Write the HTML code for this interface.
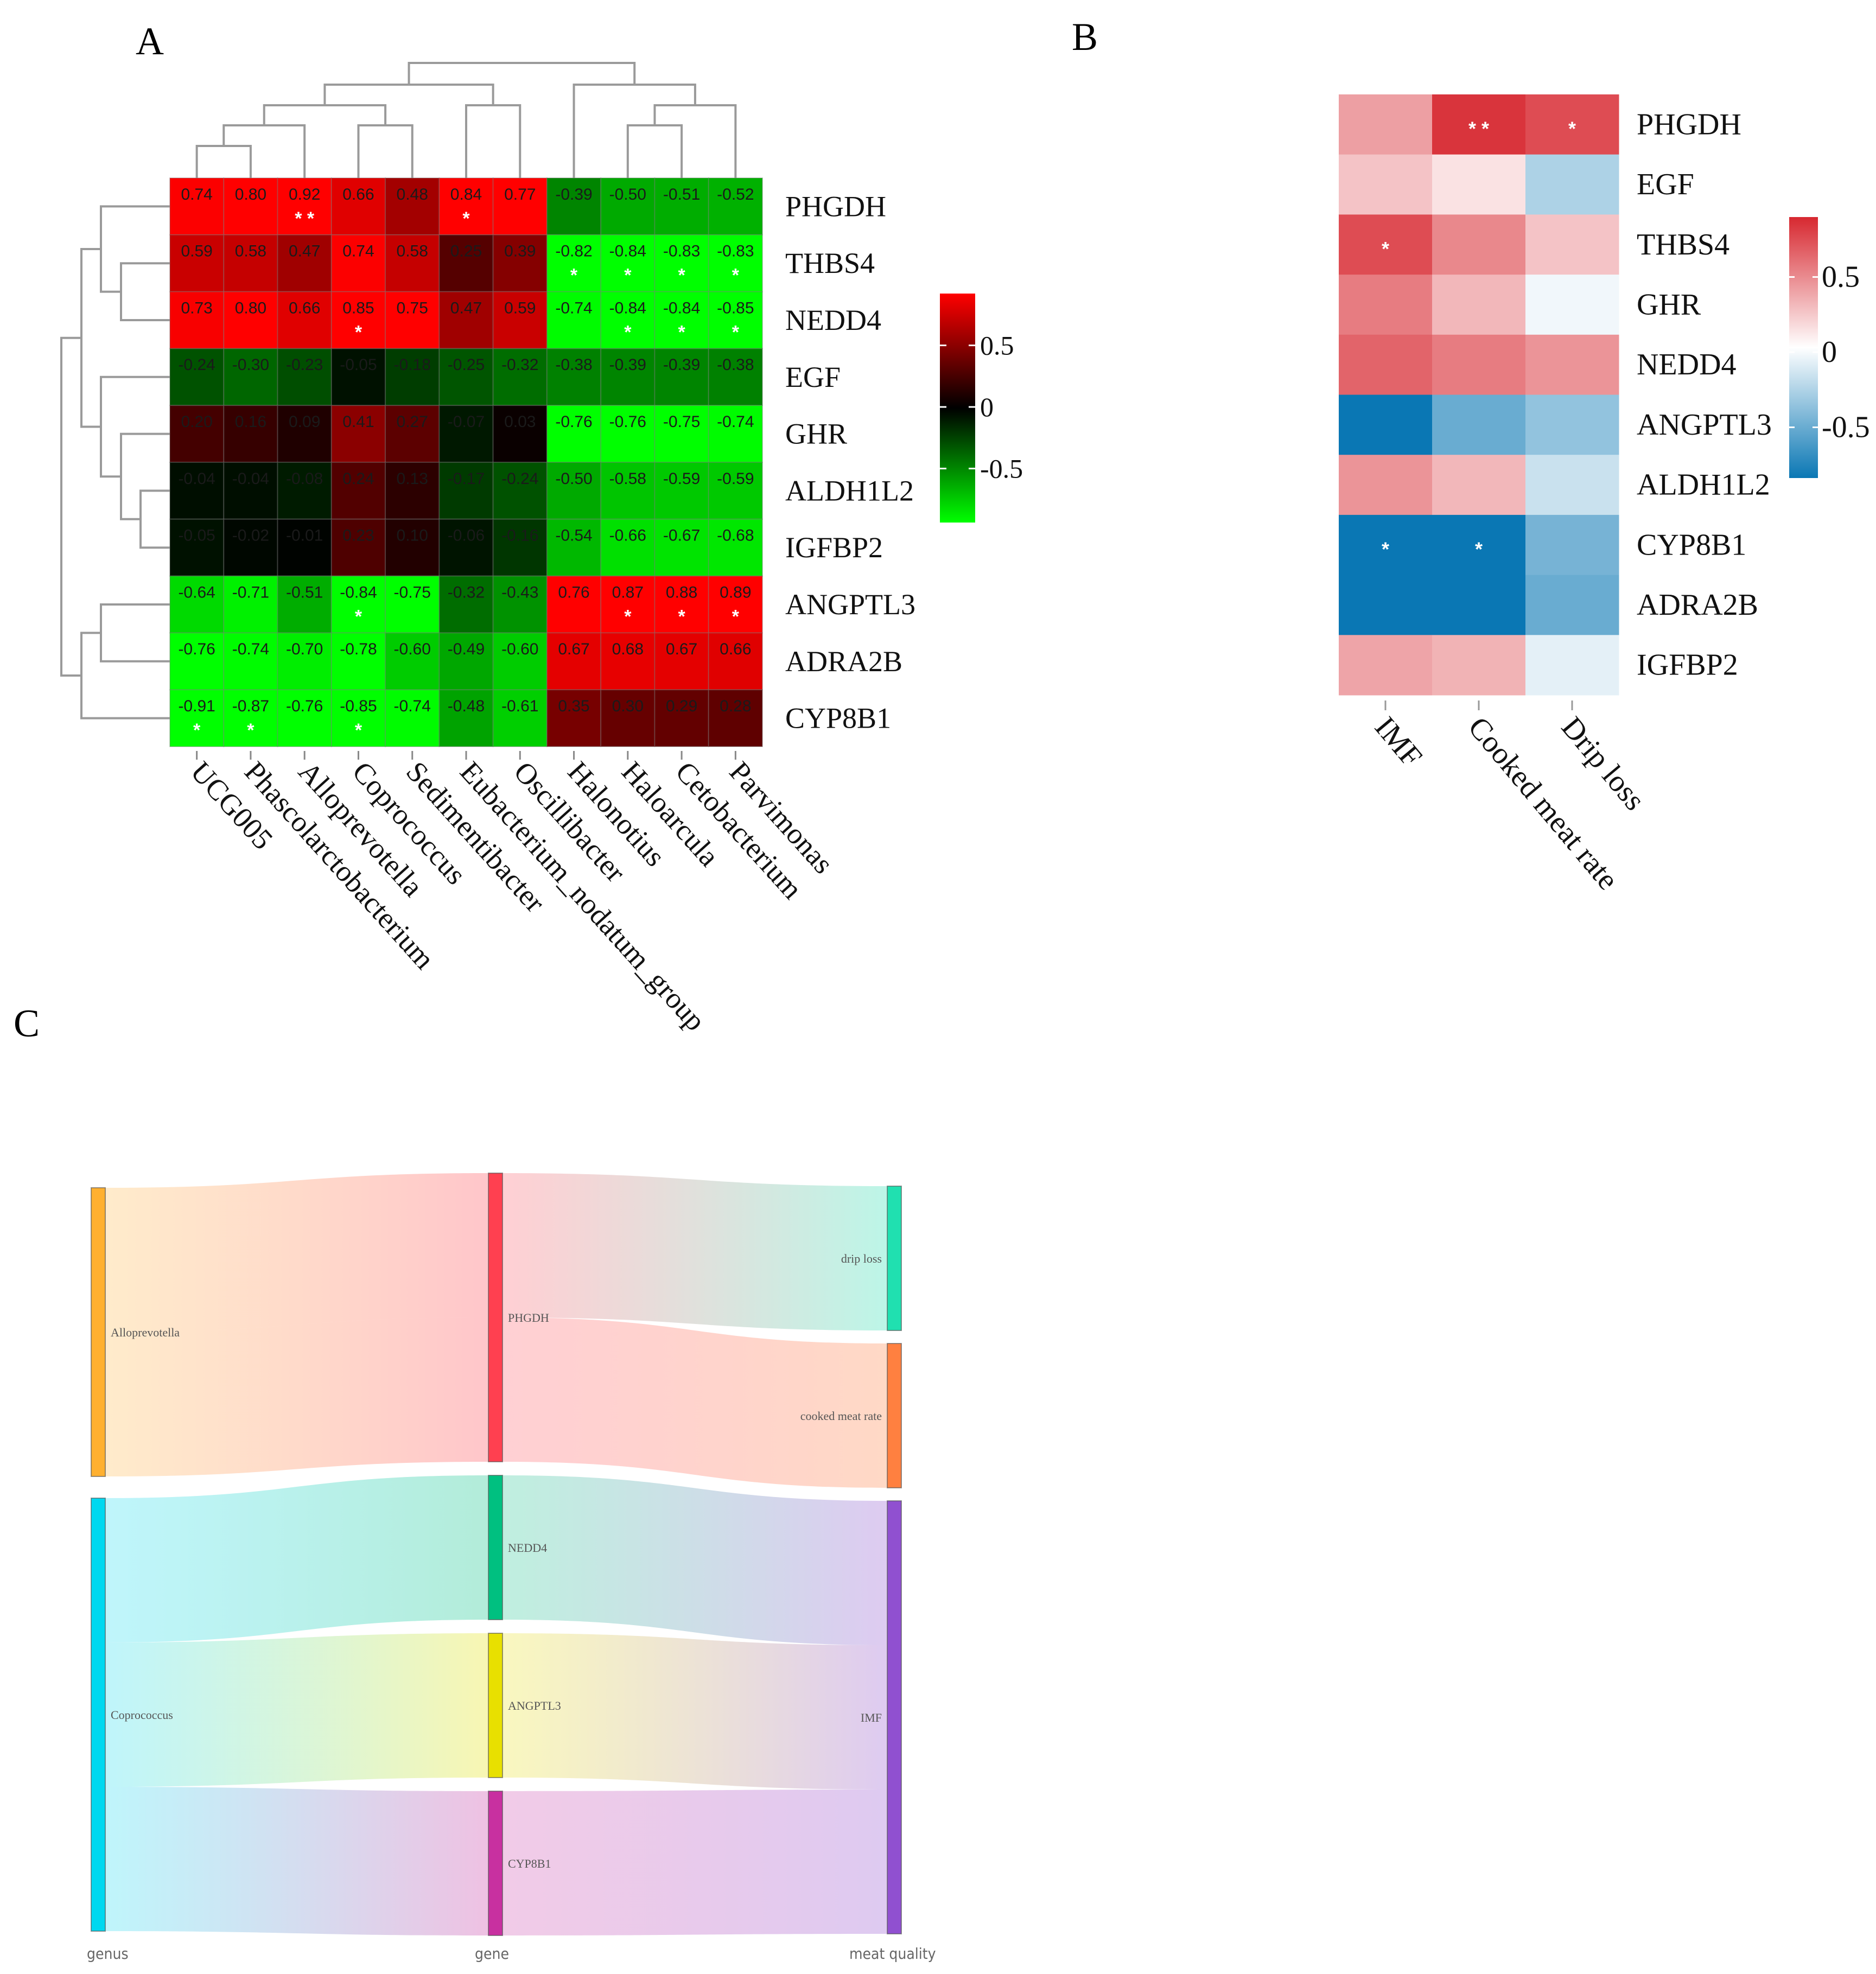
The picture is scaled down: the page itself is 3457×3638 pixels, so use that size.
<!DOCTYPE html>
<html><head><meta charset="utf-8">
<style>
html,body{margin:0;padding:0;background:#fff;}
svg{display:block;}
</style></head>
<body>
<svg id="fig" xmlns="http://www.w3.org/2000/svg" width="3457" height="3638" viewBox="0 0 3457 3638">
<defs>
<linearGradient id="cbA" x1="0" y1="0" x2="0" y2="1">
<stop offset="0" stop-color="#ff0000"/><stop offset="0.5" stop-color="#000000"/><stop offset="1" stop-color="#00ff00"/>
</linearGradient>
<linearGradient id="cbB" x1="0" y1="0" x2="0" y2="1">
<stop offset="0" stop-color="#d72830"/><stop offset="0.5" stop-color="#ffffff"/><stop offset="1" stop-color="#0a77b4"/>
</linearGradient>
</defs>
<text x="250" y="100" font-family="Liberation Serif, serif" font-size="72">A</text>
<text x="1975" y="92" font-family="Liberation Serif, serif" font-size="72">B</text>
<text x="25" y="1910" font-family="Liberation Serif, serif" font-size="72">C</text>
<g id="gA"></g>
<g id="gB"></g>
<g id="gC"></g>
</svg>
<script>
// ---------- Panel A data ----------
const genera = ["UCG005","Phascolarctobacterium","Alloprevotella","Coprococcus","Sedimentibacter","Eubacterium_nodatum_group","Oscillibacter","Halonotius","Haloarcula","Cetobacterium","Parvimonas"];
const genesA = ["PHGDH","THBS4","NEDD4","EGF","GHR","ALDH1L2","IGFBP2","ANGPTL3","ADRA2B","CYP8B1"];
const corrPHGDH = [0.74,0.80,0.92,0.66,0.48,0.84,0.77,-0.39,-0.50,-0.51,-0.52];
const corrTHBS4 = [0.59,0.58,0.47,0.74,0.58,0.25,0.39,-0.82,-0.84,-0.83,-0.83];
const corrNEDD4 = [0.73,0.80,0.66,0.85,0.75,0.47,0.59,-0.74,-0.84,-0.84,-0.85];
const corrEGF = [-0.24,-0.30,-0.23,-0.05,-0.18,-0.25,-0.32,-0.38,-0.39,-0.39,-0.38];
const corrGHR = [0.20,0.16,0.09,0.41,0.27,-0.07,0.03,-0.76,-0.76,-0.75,-0.74];
const corrALDH1L2 = [-0.04,-0.04,-0.08,0.24,0.13,-0.17,-0.24,-0.50,-0.58,-0.59,-0.59];
const corrIGFBP2 = [-0.05,-0.02,-0.01,0.23,0.10,-0.06,-0.16,-0.54,-0.66,-0.67,-0.68];
const corrANGPTL3 = [-0.64,-0.71,-0.51,-0.84,-0.75,-0.32,-0.43,0.76,0.87,0.88,0.89];
const corrADRA2B = [-0.76,-0.74,-0.70,-0.78,-0.60,-0.49,-0.60,0.67,0.68,0.67,0.66];
const corrCYP8B1 = [-0.91,-0.87,-0.76,-0.85,-0.74,-0.48,-0.61,0.35,0.30,0.29,0.28];
const starsA = [["","","**","","","*","","","","",""],["","","","","","","","*","*","*","*"],["","","","*","","","","","*","*","*"],["","","","","","","","","","",""],["","","","","","","","","","",""],["","","","","","","","","","",""],["","","","","","","","","","",""],["","","","*","","","","","*","*","*"],["","","","","","","","","","",""],["*","*","","*","","","","","","",""]];
const colMerges = [[0,1,5],[11,2,4],[3,4,4],[12,13,3],[5,6,3],[14,15,2],[8,9,4],[17,10,3],[7,18,2],[16,19,1]];
const rowMerges = [[1,2,4],[0,10,3],[5,6,5],[4,12,4],[3,13,3],[11,14,2],[7,8,3],[16,9,2],[15,17,1]];
const ticksA = [0.5,0,-0.5];

// ---------- Panel B data ----------
const genesB = ["PHGDH","EGF","THBS4","GHR","NEDD4","ANGPTL3","ALDH1L2","CYP8B1","ADRA2B","IGFBP2"];
const traits = ["IMF","Cooked meat rate","Drip loss"];
const valIMF = [0.40,0.25,0.75,0.55,0.65,-0.90,0.45,-0.90,-0.90,0.38];
const valCooked = [0.85,0.12,0.50,0.30,0.55,-0.55,0.30,-0.90,-0.90,0.32];
const valDrip = [0.75,-0.30,0.25,-0.05,0.45,-0.40,-0.20,-0.50,-0.55,-0.10];
const starsB = [["","**","*"],["","",""],["*","",""],["","",""],["","",""],["","",""],["","",""],["*","*",""],["","",""],["","",""]];
const ticksB = [0.5,0,-0.5];

// ---------- Panel C data ----------
const nodeNames = ["Alloprevotella","Coprococcus","PHGDH","NEDD4","ANGPTL3","CYP8B1","drip loss","cooked meat rate","IMF"];
const nodeCols = [0,0,1,1,1,1,2,2,2];
const nodeColors = ["#ffb030","#00d8f0","#ff4050","#00c080","#e8e000","#c830a0","#20e0b0","#ff8040","#9050d0"];
const linkSource = [0,0,1,1,1,2,2,3,4,5];
const linkTarget = [2,2,3,4,5,6,7,8,8,8];
const linkValue = [1,1,1,1,1,1,1,1,1,1];
const columnTitles = ["genus","gene","meat quality"];

const NS="http://www.w3.org/2000/svg";
function mk(tag,attrs,parent){const e=document.createElementNS(NS,tag);for(const k in attrs)e.setAttribute(k,attrs[k]);parent.appendChild(e);return e;}
function lerp(a,b,t){return a+(b-a)*t;}
function hex(c){return [parseInt(c.slice(1,3),16),parseInt(c.slice(3,5),16),parseInt(c.slice(5,7),16)];}
function mix(c1,c2,t){const a=hex(c1),b=hex(c2);return "rgb("+a.map((v,i)=>Math.round(lerp(v,b[i],t))).join(",")+")";}

// ================= Panel A =================
(function(){
const g=document.getElementById('gA');
const x0=313,x1=1405,y0=328,y1=1376;
const cw=(x1-x0)/genera.length, rh=(y1-y0)/genesA.length;
const xs=i=>x0+cw*(i+0.5), ys=j=>y0+rh*(j+0.5);
const rows=[corrPHGDH,corrTHBS4,corrNEDD4,corrEGF,corrGHR,corrALDH1L2,corrIGFBP2,corrANGPTL3,corrADRA2B,corrCYP8B1];
const colA=v=>{const t=Math.min(1,Math.abs(v)/0.75);return v>=0?mix("#000000","#ff0000",t):mix("#000000","#00ff00",t);};
rows.forEach((row,j)=>{row.forEach((v,i)=>{
  const r=mk('rect',{x:x0+cw*i,y:y0+rh*j,width:cw,height:rh,fill:colA(v),stroke:"rgba(120,120,120,0.35)","stroke-width":2},g);
  
  
  const t=mk('text',{x:xs(i),y:y0+rh*j+rh*0.38,"text-anchor":"middle","font-family":"Liberation Sans, sans-serif","font-size":30,fill:"#1a1a1a"},g);
  t.textContent=v.toFixed(2);
  
  
  if(starsA[j][i]){const s=mk('text',{x:xs(i),y:y0+rh*j+rh*0.82,"text-anchor":"middle","font-family":"Liberation Sans, sans-serif","font-size":34,"font-weight":"bold",fill:"#ffffff"},g);
    s.textContent=starsA[j][i].split("").join(" ");
    
    }
});});
genesA.forEach((n,j)=>{const t=mk('text',{x:1447,y:ys(j)+18,"font-family":"Liberation Serif, serif","font-size":54,fill:"#111"},g);t.textContent=n;
  
  });
genera.forEach((n,i)=>{mk('line',{x1:xs(i),y1:y1+8,x2:xs(i),y2:y1+24,stroke:"#888","stroke-width":3},g);
  const t=mk('text',{transform:"translate("+(xs(i)-14)+","+(y1+48)+") rotate(48)","font-family":"Liberation Serif, serif","font-size":54,fill:"#111"},g);t.textContent=n;
  
  });
const topY=[null,116,156,194,231,269];
const cx=genera.map((_,i)=>xs(i)), cy=genera.map(()=>y0);
colMerges.forEach(m=>{const a=m[0],b=m[1],h=topY[m[2]];
  mk('path',{d:`M${cx[a]},${cy[a]}V${h}H${cx[b]}V${cy[b]}`,fill:"none",stroke:"#9a9a9a","stroke-width":4},g);
  cx.push((cx[a]+cx[b])/2);cy.push(h);});
const leftX=[null,113,150,186,223,259];
const ry=genesA.map((_,j)=>ys(j)), rx=genesA.map(()=>x0);
rowMerges.forEach(m=>{const a=m[0],b=m[1],h=leftX[m[2]];
  mk('path',{d:`M${rx[a]},${ry[a]}H${h}V${ry[b]}H${rx[b]}`,fill:"none",stroke:"#9a9a9a","stroke-width":4},g);
  ry.push((ry[a]+ry[b])/2);rx.push(h);});
const cb=mk('rect',{x:1732,y:541,width:65,height:422,fill:"url(#cbA)"},g);


const cy0=750, per=(862-635)/1;
ticksA.forEach(v=>{const y=cy0-v*per;
  mk('line',{x1:1732,y1:y,x2:1744,y2:y,stroke:"#fff","stroke-width":3},g);
  mk('line',{x1:1785,y1:y,x2:1797,y2:y,stroke:"#fff","stroke-width":3},g);
  const t=mk('text',{x:1806,y:y+17,"font-family":"Liberation Serif, serif","font-size":50,fill:"#111"},g);t.textContent=String(v);
  
  });
})();

// ================= Panel B =================
(function(){
const g=document.getElementById('gB');
const x0=2467,x1=2983,y0=174,y1=1281;
const cw=(x1-x0)/traits.length, rh=(y1-y0)/genesB.length;
const cols=[valIMF,valCooked,valDrip];
const colB=v=>{const t=Math.min(1,Math.abs(v)/0.9);return v>=0?mix("#ffffff","#d72830",t):mix("#ffffff","#0a77b4",t);};
cols.forEach((col,i)=>col.forEach((v,j)=>{
  const r=mk('rect',{x:x0+cw*i,y:y0+rh*j,width:cw+0.5,height:rh+0.5,fill:colB(v)},g);
  
  
  if(starsB[j][i]){const s=mk('text',{x:x0+cw*(i+0.5),y:y0+rh*(j+0.5)+20,"text-anchor":"middle","font-family":"Liberation Sans, sans-serif","font-size":36,"font-weight":"bold",fill:"#ffffff"},g);
    s.textContent=starsB[j][i].split("").join(" ");
    
    }
}));
genesB.forEach((n,j)=>{const t=mk('text',{x:3016,y:y0+rh*(j+0.5)+18,"font-family":"Liberation Serif, serif","font-size":56,fill:"#111"},g);t.textContent=n;
  
  });
traits.forEach((n,i)=>{const x=x0+cw*(i+0.5);
  mk('line',{x1:x,y1:y1+10,x2:x,y2:y1+28,stroke:"#999","stroke-width":3},g);
  const t=mk('text',{transform:"translate("+(x-22)+","+(y1+60)+") rotate(50)","font-family":"Liberation Serif, serif","font-size":56,fill:"#111"},g);t.textContent=n;
  
  });
const cb=mk('rect',{x:3297,y:400,width:53,height:481,fill:"url(#cbB)"},g);


const c0=649, per=(788-511);
ticksB.forEach(v=>{const y=c0-v*per;
  mk('line',{x1:3297,y1:y,x2:3307,y2:y,stroke:"#fff","stroke-width":3},g);
  mk('line',{x1:3340,y1:y,x2:3350,y2:y,stroke:"#fff","stroke-width":3},g);
  const t=mk('text',{x:3357,y:y+18,"font-family":"Liberation Serif, serif","font-size":56,fill:"#111"},g);t.textContent=String(v);
  
  });
})();

// ================= Panel C (Sankey) =================
(function(){
const g=document.getElementById('gC');
const defs=document.querySelector('defs');
const colX=[168,900,1635], barW=26;
const colTop=[2189,2162,2186], colGap=[40,25,24];
const unit=266;
const inV=nodeNames.map(()=>0), outV=nodeNames.map(()=>0);
linkValue.forEach((v,k)=>{outV[linkSource[k]]+=v;inV[linkTarget[k]]+=v;});
const nv=nodeNames.map((_,n)=>Math.max(inV[n],outV[n]));
const ny=[], cur=colTop.slice();
nodeNames.forEach((_,n)=>{const c=nodeCols[n];ny[n]=cur[c];cur[c]+=nv[n]*unit+colGap[c];});
const oOff=nodeNames.map(()=>0), iOff=nodeNames.map(()=>0);
linkValue.forEach((v,k)=>{
  const s=linkSource[k],t=linkTarget[k],h=v*unit;
  const xa=colX[nodeCols[s]]+barW, xb=colX[nodeCols[t]];
  const ya=ny[s]+oOff[s], yb=ny[t]+iOff[t];oOff[s]+=h;iOff[t]+=h;
  const gid='lg'+k;
  const lg=mk('linearGradient',{id:gid,gradientUnits:"userSpaceOnUse",x1:xa,y1:0,x2:xb,y2:0},defs);
  mk('stop',{offset:0,"stop-color":nodeColors[s],"stop-opacity":0.25},lg);
  mk('stop',{offset:1,"stop-color":nodeColors[t],"stop-opacity":0.3},lg);
  const mx=(xa+xb)/2;
  const p=mk('path',{d:`M${xa},${ya}C${mx},${ya} ${mx},${yb} ${xb},${yb}V${yb+h}C${mx},${yb+h} ${mx},${ya+h} ${xa},${ya+h}Z`,fill:`url(#${gid})`},g);
  
  
});
nodeNames.forEach((n,i)=>{const c=nodeCols[i];
  const r=mk('rect',{x:colX[c],y:ny[i],width:barW,height:nv[i]*unit,fill:nodeColors[i],stroke:"#555","stroke-width":2,"stroke-opacity":0.6},g);
  
  
  const right=c===2;
  const t=mk('text',{x:right?colX[c]-10:colX[c]+barW+10,y:ny[i]+nv[i]*unit/2+8,"text-anchor":right?"end":"start","font-family":"Liberation Serif, serif","font-size":22,fill:"#555"},g);
  t.textContent=n;
  
  
});
const titleX=[160,875,1565];
columnTitles.forEach((n,c)=>{const t=mk('text',{x:titleX[c],y:3610,"font-family":"DejaVu Sans Condensed, DejaVu Sans, sans-serif","font-size":28,fill:"#666"},g);
  t.textContent=n;
  
  });
})();
</script>
</body></html>
